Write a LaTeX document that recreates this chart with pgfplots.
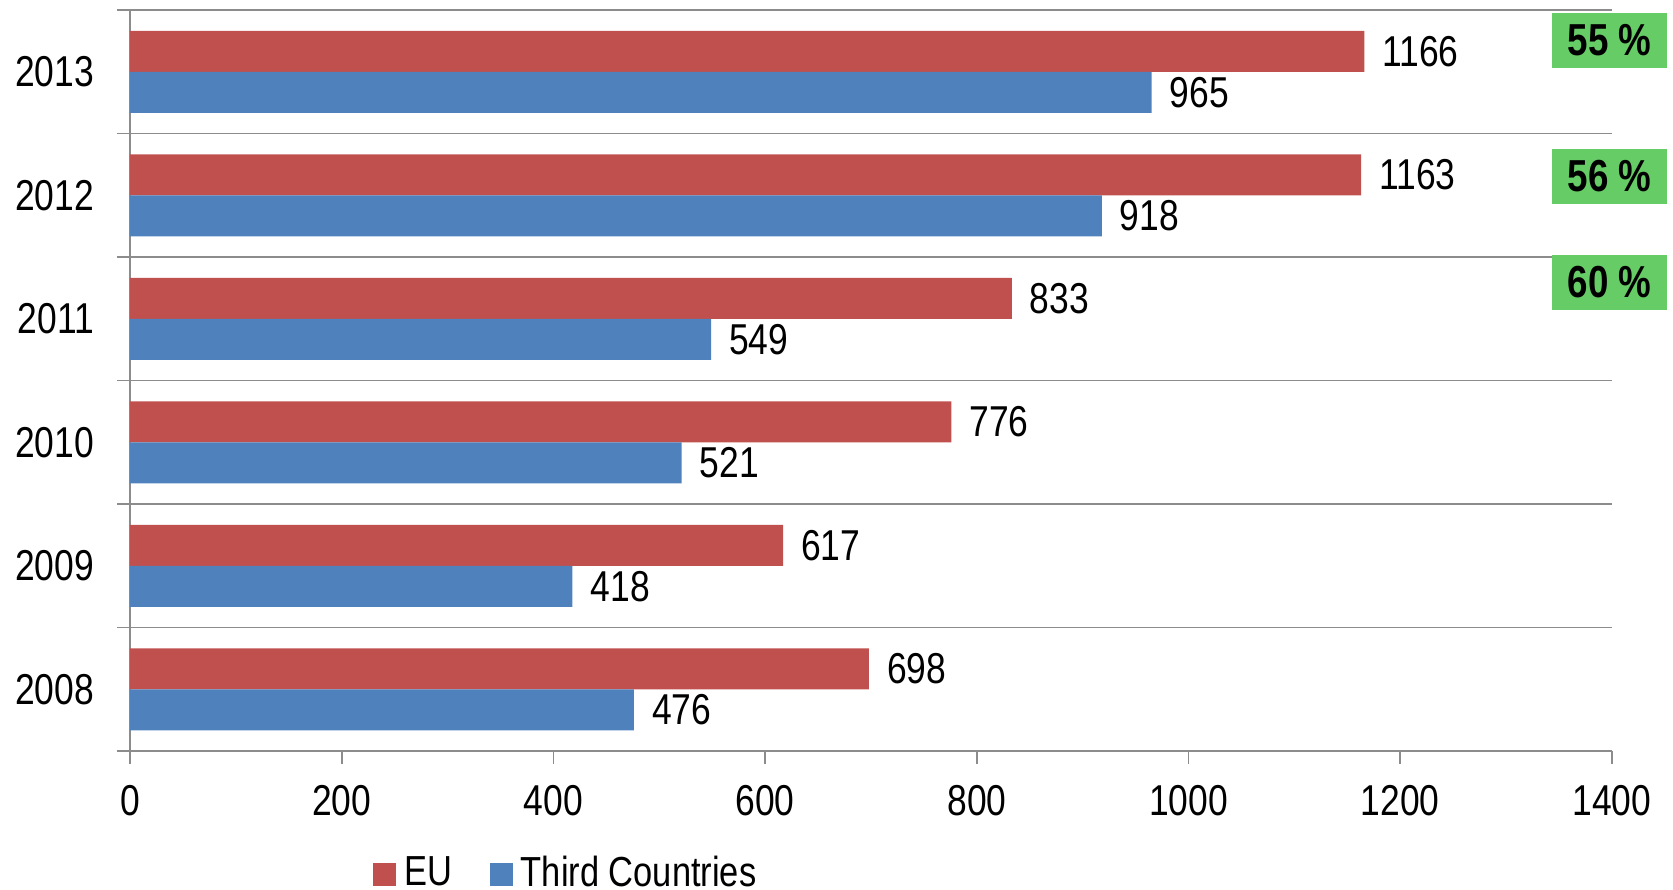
\documentclass[border=0pt]{standalone}
\usepackage{fontspec}
\setmainfont[FakeStretch=0.82]{Liberation Sans}
\usepackage{pgfplots}
\pgfplotsset{compat=1.18}
\definecolor{eured}{HTML}{C0504D}
\definecolor{tcblue}{HTML}{4F81BD}
\definecolor{boxgreen}{HTML}{66CC66}
\definecolor{axgray}{HTML}{8C8C8C}
\newcommand{\chartfont}{\fontsize{10.8}{12}\selectfont}
\begin{document}
\begin{tikzpicture}
\useasboundingbox (-32.5pt,-34.75pt) rectangle (385.75pt,187.75pt);
\begin{axis}[
  at={(0pt,0pt)}, anchor=south west,
  scale only axis, width=370.5pt, height=185.25pt,
  xbar, bar width=10.25pt,
  xmin=0, xmax=1400, ymin=-0.5, ymax=5.5,
  xtick={0,200,...,1400},
  ytick={-0.5,0.5,1.5,2.5,3.5,4.5,5.5},
  yticklabels={},
  ymajorgrids,
  extra y ticks={0,1,2,3,4,5},
  extra y tick labels={2008,2009,2010,2011,2012,2013},
  extra y tick style={major tick length=0pt, grid=none},
  axis x line*=bottom, axis y line*=left,
  axis line style={axgray, line width=0.4pt, -},
  major tick length=3.25pt, tick align=outside,
  tick style={axgray, line width=0.4pt},
  major grid style={axgray, line width=0.4pt},
  /pgf/number format/assume math mode=true,
  /pgf/number format/set thousands separator={},
  tick label style={font=\chartfont, black},
  xticklabel style={yshift=-1.8pt},
  yticklabel style={xshift=-5.5pt},
  point meta=x,
  nodes near coords,
  every node near coord/.append style={anchor=west, font=\chartfont, black, xshift=1pt},
  clip=false,
  legend style={at={(0.296,-0.166)}, anchor=center, draw=none, fill=none,
    legend columns=2, font=\fontsize{10.5}{12}\selectfont, inner sep=0pt,
    /tikz/every even column/.append style={column sep=7.5pt}},
  legend image code/.code={\fill[#1] (0pt,-2.875pt) rectangle (5.75pt,2.875pt);},
]
\addplot[fill=eured, draw=none, bar shift=5.125pt] coordinates {
  (698,0) (617,1) (776,2) (833,3) (1163,4) (1166,5)};
\addlegendentry{EU}
\addplot[fill=tcblue, draw=none, bar shift=-5.125pt] coordinates {
  (476,0) (418,1) (521,2) (549,3) (918,4) (965,5)};
\addlegendentry{Third Countries}
\node[fill=boxgreen, minimum width=28.75pt, minimum height=13.75pt, inner sep=0pt,
  font=\fontsize{11.2}{12}\selectfont\bfseries] at (axis cs:1397.6,5.253) {55 \%};
\node[fill=boxgreen, minimum width=28.75pt, minimum height=13.75pt, inner sep=0pt,
  font=\fontsize{11.2}{12}\selectfont\bfseries] at (axis cs:1397.6,4.152) {56 \%};
\node[fill=boxgreen, minimum width=28.75pt, minimum height=13.75pt, inner sep=0pt,
  font=\fontsize{11.2}{12}\selectfont\bfseries] at (axis cs:1397.6,3.294) {60 \%};
\end{axis}
\end{tikzpicture}
\end{document}
